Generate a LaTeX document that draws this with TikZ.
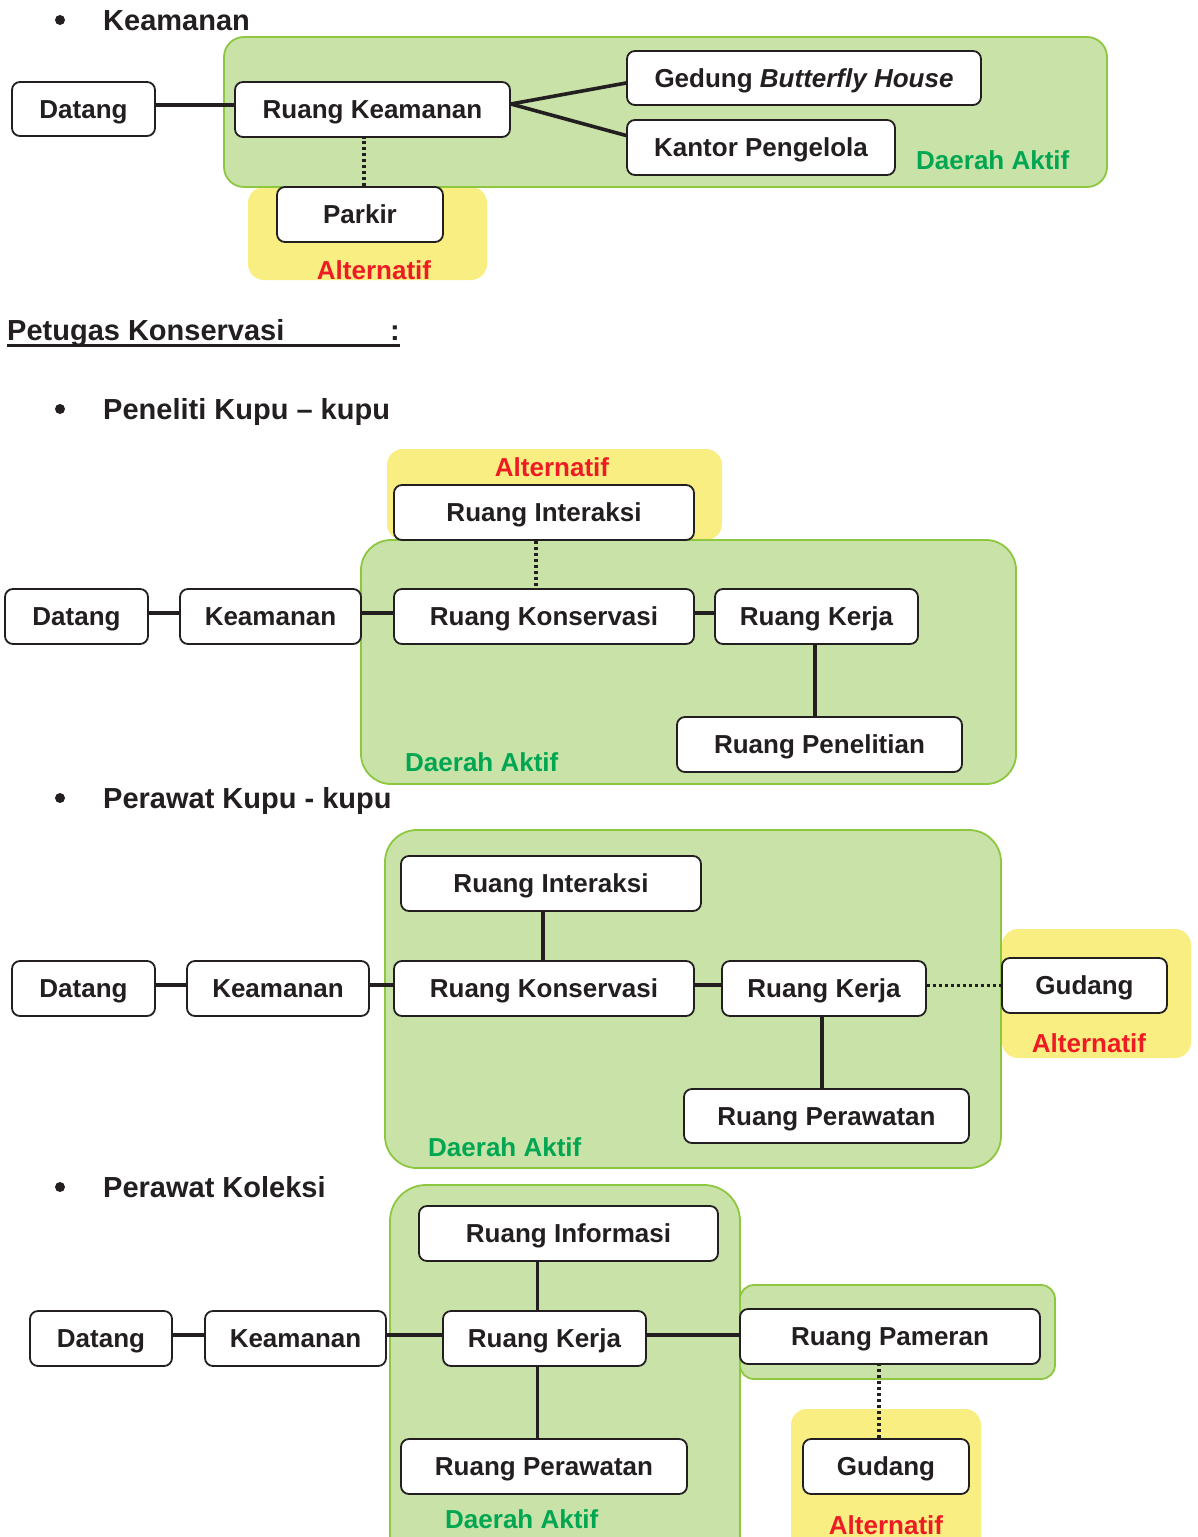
\documentclass[tikz,border=0pt]{standalone}
\usepackage{fontspec}
\setmainfont{Liberation Sans}
\usetikzlibrary{calc}
\definecolor{ink}{RGB}{35,31,32}
\definecolor{zonefill}{RGB}{201,226,168}
\definecolor{zoneline}{RGB}{141,198,63}
\definecolor{altfill}{RGB}{249,238,130}
\definecolor{zonetext}{RGB}{0,166,81}
\definecolor{alttext}{RGB}{237,28,36}
\begin{document}
\begin{tikzpicture}[x=1pt,y=-1pt,
  roombox/.style={draw=ink, line width=1.8pt, fill=white, rounded corners=8pt,
    inner sep=0pt, text=ink, font=\fontsize{26}{30}\selectfont\bfseries,
    text height=18.6pt, text depth=0pt, align=center},
  zone/.style={draw=zoneline, line width=1.8pt, fill=zonefill, rounded corners=24pt},
  altzone/.style={fill=altfill, rounded corners=16pt},
  link/.style={draw=ink, line width=3.6pt},
  altlink/.style={draw=ink, line width=3.2pt, dash pattern=on 3pt off 3pt},
  zonelabel/.style={text=zonetext, font=\fontsize{26}{30}\selectfont\bfseries,
    inner sep=0pt, text height=18.6pt, text depth=0pt},
  altlabel/.style={text=alttext, font=\fontsize{26}{30}\selectfont\bfseries,
    inner sep=0pt, text height=18.6pt, text depth=0pt},
  heading/.style={text=ink, font=\fontsize{29}{34}\selectfont\bfseries,
    inner sep=0pt, text height=20.8pt, text depth=0pt, anchor=west},
  bullet/.style={fill=ink, circle, inner sep=0pt, minimum size=10pt}
]
\useasboundingbox (0,0) rectangle (1197,1537);

% ---------- Keamanan ----------
\node[bullet] (b1) at (60,20) {};
\node[heading] (h1) at (103,20) {Keamanan};
\fill[altzone] (248,187) rectangle (487,280);
\draw[zone, rounded corners=20pt] (224,37) rectangle (1107,187);
\node[roombox, minimum width=143pt, minimum height=54pt] (s1dat) at (83.5,109) {Datang};
\node[roombox, minimum width=275pt, minimum height=55pt] (s1rk) at (372.5,109.5) {Ruang Keamanan};
\node[roombox, minimum width=354pt, minimum height=54pt] (s1gb) at (804,78) {Gedung \textit{Butterfly House}};
\node[roombox, minimum width=268pt, minimum height=55pt] (s1kp) at (761,147.5) {Kantor Pengelola};
\node[roombox, minimum width=166pt, minimum height=55pt] (s1pk) at (360,214.5) {Parkir};
\node[zonelabel, anchor=west] (s1za) at (916,160) {Daerah Aktif};
\node[altlabel] (s1al) at (374,270) {Alternatif};
\draw[link] ([yshift=4pt]s1dat.east) -- ([yshift=4.5pt]s1rk.west);
\draw[link] ([yshift=5.5pt]s1rk.east) -- ([yshift=-5pt]s1gb.west);
\draw[link] ([yshift=5.5pt]s1rk.east) -- ([yshift=12pt]s1kp.west);
\draw[altlink] ([xshift=4pt]s1pk.north) -- ([xshift=4pt]s1pk.north |- s1rk.south);

% ---------- Petugas Konservasi ----------
\node[text=ink, font=\fontsize{29}{34}\selectfont\bfseries, inner sep=0pt, anchor=base west] (pk) at (7,340) {Petugas Konservasi};
\node[text=ink, font=\fontsize{29}{34}\selectfont\bfseries, inner sep=0pt, anchor=base] (pkc) at (395,340) {:};
\draw[ink, line width=2.5pt] (7,345.5) -- (400,345.5);

% ---------- Peneliti Kupu - kupu ----------
\node[bullet] (b2) at (60,409) {};
\node[heading] (h2) at (103,409) {Peneliti Kupu – kupu};
\fill[altzone] (387,449) rectangle (722,540);
\draw[zone, rounded corners=30pt] (361,540) rectangle (1016,784);
\node[roombox, minimum width=143pt, minimum height=55pt] (s2dat) at (76.5,616.5) {Datang};
\node[roombox, minimum width=181pt, minimum height=55pt] (s2kea) at (270.5,616.5) {Keamanan};
\node[roombox, minimum width=300pt, minimum height=55pt] (s2kon) at (544,616.5) {Ruang Konservasi};
\node[roombox, minimum width=203pt, minimum height=55pt] (s2ker) at (816.5,616.5) {Ruang Kerja};
\node[roombox, minimum width=285pt, minimum height=55pt] (s2pen) at (819.5,744.5) {Ruang Penelitian};
\node[roombox, minimum width=300pt, minimum height=55pt] (s2int) at (544,512.5) {Ruang Interaksi};
\node[altlabel] (s2al) at (552,467) {Alternatif};
\node[zonelabel, anchor=west] (s2za) at (405,762) {Daerah Aktif};
\draw[link] ([yshift=3.5pt]s2dat.east) -- ([yshift=3.5pt]s2kea.west);
\draw[link] ([yshift=3.5pt]s2kea.east) -- ([yshift=3.5pt]s2kon.west);
\draw[link] ([yshift=3.5pt]s2kon.east) -- ([yshift=3.5pt]s2ker.west);
\draw[link] ([xshift=-1.5pt]s2ker.south) -- ([xshift=-1.5pt]s2ker.south |- s2pen.north);
\draw[altlink] ([xshift=-8pt]s2int.south) -- ([xshift=-8pt]s2kon.north);

% ---------- Perawat Kupu - kupu ----------
\node[bullet] (b3) at (60,798) {};
\node[heading] (h3) at (103,798) {Perawat Kupu - kupu};
\draw[zone, rounded corners=32pt] (385,830) rectangle (1001,1168);
\fill[altzone] (1002,929) rectangle (1191,1058);
\node[roombox, minimum width=300pt, minimum height=55pt] (s3int) at (551,883.5) {Ruang Interaksi};
\node[roombox, minimum width=143pt, minimum height=55pt] (s3dat) at (83.5,988.5) {Datang};
\node[roombox, minimum width=182pt, minimum height=55pt] (s3kea) at (278,988.5) {Keamanan};
\node[roombox, minimum width=300pt, minimum height=55pt] (s3kon) at (544,988.5) {Ruang Konservasi};
\node[roombox, minimum width=204pt, minimum height=55pt] (s3ker) at (824,988.5) {Ruang Kerja};
\node[roombox, minimum width=165pt, minimum height=55pt] (s3gud) at (1084.5,985.5) {Gudang};
\node[roombox, minimum width=285pt, minimum height=54pt] (s3per) at (826.5,1116) {Ruang Perawatan};
\node[altlabel] (s3al) at (1089,1043) {Alternatif};
\node[zonelabel, anchor=west] (s3za) at (428,1147) {Daerah Aktif};
\draw[link] ([yshift=3.5pt]s3dat.east) -- ([yshift=3.5pt]s3kea.west);
\draw[link] ([yshift=3.5pt]s3kea.east) -- ([yshift=3.5pt]s3kon.west);
\draw[link] ([yshift=3.5pt]s3kon.east) -- ([yshift=3.5pt]s3ker.west);
\draw[link] ([xshift=-1pt]s3kon.north) -- ([xshift=-1pt]s3kon.north |- s3int.south);
\draw[link] ([xshift=-2pt]s3ker.south) -- ([xshift=-2pt]s3ker.south |- s3per.north);
\draw[altlink] (s3ker.east |- s3gud.west) -- (s3gud.west);

% ---------- Perawat Koleksi ----------
\node[bullet] (b4) at (60,1187) {};
\node[heading] (h4) at (103,1187) {Perawat Koleksi};
\draw[zone, rounded corners=36pt] (390,1185) rectangle (740,1580);
\draw[zone, rounded corners=14pt] (740,1285) rectangle (1055,1379);
\fill[altzone] (791,1409) rectangle (981,1580);
\node[roombox, minimum width=299pt, minimum height=55pt] (s4inf) at (568.5,1233.5) {Ruang Informasi};
\node[roombox, minimum width=142pt, minimum height=55pt] (s4dat) at (101,1338.5) {Datang};
\node[roombox, minimum width=181pt, minimum height=55pt] (s4kea) at (295.5,1338.5) {Keamanan};
\node[roombox, minimum width=203pt, minimum height=55pt] (s4ker) at (544.5,1338.5) {Ruang Kerja};
\node[roombox, minimum width=286pt, minimum height=55pt] (s4per) at (544,1466.5) {Ruang Perawatan};
\node[roombox, minimum width=300pt, minimum height=55pt] (s4pam) at (890,1336.5) {Ruang Pameran};
\node[roombox, minimum width=166pt, minimum height=55pt] (s4gud) at (886,1466.5) {Gudang};
\node[altlabel] (s4al) at (886,1525) {Alternatif};
\node[zonelabel, anchor=west] (s4za) at (445,1519) {Daerah Aktif};
\draw[link] ([yshift=3.5pt]s4dat.east) -- ([yshift=3.5pt]s4kea.west);
\draw[link] ([yshift=3.5pt]s4kea.east) -- ([yshift=3.5pt]s4ker.west);
\draw[link] ([yshift=3.5pt]s4ker.east) -- ([yshift=1.5pt]s4pam.west);
\draw[link] ([xshift=-7pt]s4ker.north) -- ([xshift=-7pt]s4ker.north |- s4inf.south);
\draw[link] ([xshift=-7pt]s4ker.south) -- ([xshift=-7pt]s4ker.south |- s4per.north);
\draw[altlink] ([xshift=-7pt]s4gud.north) -- ([xshift=-7pt]s4gud.north |- s4pam.south);
\end{tikzpicture}
\end{document}
